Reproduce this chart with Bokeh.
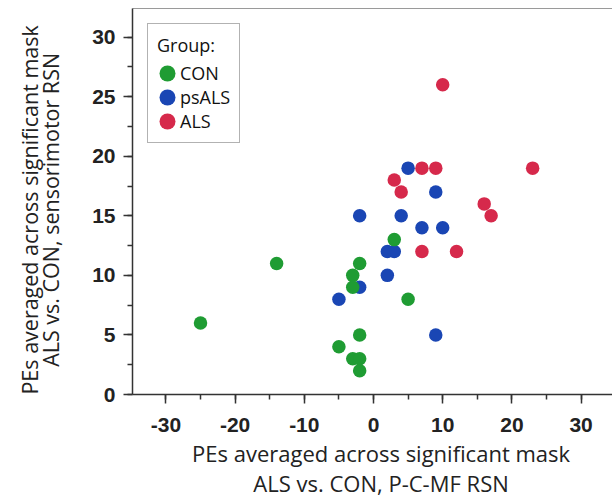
from bokeh.plotting import figure
from bokeh.models import (Range1d, SingleIntervalTicker, LinearAxis, FixedTicker,
                          Legend, LegendItem, PrintfTickFormatter)
from bokeh.embed import file_html
from bokeh.resources import INLINE

# ---- data ----
con_x = [-25, -14, -2, -3, -3, -2, -5, -3, -2, -2, 3, 5]
con_y = [6, 11, 11, 10, 9, 5, 4, 3, 3, 2, 13, 8]

psals_x = [-2, -2, -5, 5, 9, 4, 7, 10, 2, 3, 2, 9]
psals_y = [15, 9, 8, 19, 17, 15, 14, 14, 12, 12, 10, 5]

als_x = [10, 7, 9, 23, 3, 4, 16, 17, 7, 12]
als_y = [26, 19, 19, 19, 18, 17, 16, 15, 12, 12]

group_labels = ["CON", "psALS", "ALS"]
legend_title = "Group:"
x_title_lines = ["PEs averaged across significant mask", "ALS vs. CON, P-C-MF RSN"]
y_title_lines = ["PEs averaged across significant mask", "ALS vs. CON, sensorimotor RSN"]

col_con = "#1f9c33"
col_ps = "#1a46b4"
col_als = "#d6294b"

NB = "\u00a0"
# small non-breaking-space padding nudges the centred titles like in the original
x_title = "\n".join(NB * 3 + t for t in x_title_lines)
y_title = "\n".join(t + NB * 3 for t in y_title_lines)

p = figure(width=612, height=504, output_backend="svg", toolbar_location=None,
           x_range=Range1d(-34.83, 34.54), y_range=Range1d(0, 32.4),
           min_border_left=132, min_border_right=0, min_border_top=8,
           min_border_bottom=110, x_axis_location=None, y_axis_location=None)
p.outline_line_color = None
p.grid.visible = False
p.background_fill_color = "white"
p.border_fill_color = "white"

def style_axis(ax, size, line_h):
    ax.axis_line_color = "#333333"
    ax.axis_line_width = 1.5
    ax.major_tick_line_color = "#333333"
    ax.minor_tick_line_color = "#333333"
    ax.major_tick_line_width = 1.5
    ax.minor_tick_line_width = 1.5
    ax.major_tick_in = 0
    ax.major_tick_out = 9
    ax.minor_tick_in = 0
    ax.minor_tick_out = 5
    ax.formatter = PrintfTickFormatter(format="%d")
    ax.major_label_text_font = "Liberation Sans"
    ax.major_label_text_font_style = "bold"
    ax.major_label_text_font_size = "21px"
    ax.major_label_text_color = "#222222"
    ax.axis_label_text_font = "Open Sans"
    ax.axis_label_text_font_style = "normal"
    ax.axis_label_text_font_size = size
    ax.axis_label_text_color = "#222222"
    ax.axis_label_text_line_height = line_h

xaxis = LinearAxis(ticker=SingleIntervalTicker(interval=10, num_minor_ticks=2),
                   axis_label=x_title)
style_axis(xaxis, "22px", 1.0)
xaxis.major_label_standoff = 14
xaxis.axis_label_standoff = 3
p.add_layout(xaxis, "below")

yaxis = LinearAxis(ticker=SingleIntervalTicker(interval=5, num_minor_ticks=2),
                   axis_label=y_title)
style_axis(yaxis, "21.5px", 0.72)
yaxis.major_label_standoff = 8
yaxis.axis_label_standoff = 24
p.add_layout(yaxis, "left")

top = LinearAxis(ticker=FixedTicker(ticks=[]), axis_line_color="#9a9a9a",
                 axis_line_width=1, major_tick_out=0, major_tick_in=0,
                 minor_tick_out=0, minor_tick_in=0, major_label_standoff=0,
                 major_label_text_font_size="0px")
p.add_layout(top, "above")

def dots(xs, ys, col):
    return p.ellipse(xs, ys, width=13.5, height=13.5, width_units="screen",
                     height_units="screen", fill_color=col, line_color=None)

r_ps = dots(psals_x, psals_y, col_ps)
r_con = dots(con_x, con_y, col_con)
r_als = dots(als_x, als_y, col_als)

legend = Legend(items=[LegendItem(label=group_labels[0], renderers=[r_con]),
                       LegendItem(label=group_labels[1], renderers=[r_ps]),
                       LegendItem(label=group_labels[2], renderers=[r_als])],
                location="top_left", title=legend_title)
legend.margin = 15
legend.padding = 9
legend.glyph_width = 20
legend.glyph_height = 20
legend.label_height = 20
legend.spacing = 0
legend.label_standoff = 3
legend.label_width = 48
legend.label_text_font = "Open Sans"
legend.label_text_font_size = "18px"
legend.label_text_color = "#111111"
legend.title_text_font = "Open Sans"
legend.title_text_font_size = "18px"
legend.title_text_font_style = "normal"
legend.title_text_color = "#111111"
legend.title_standoff = 4
legend.border_line_color = "#666666"
legend.border_line_width = 1
legend.background_fill_alpha = 1.0
p.add_layout(legend)

open("out.html", "w").write(file_html(p, INLINE))
